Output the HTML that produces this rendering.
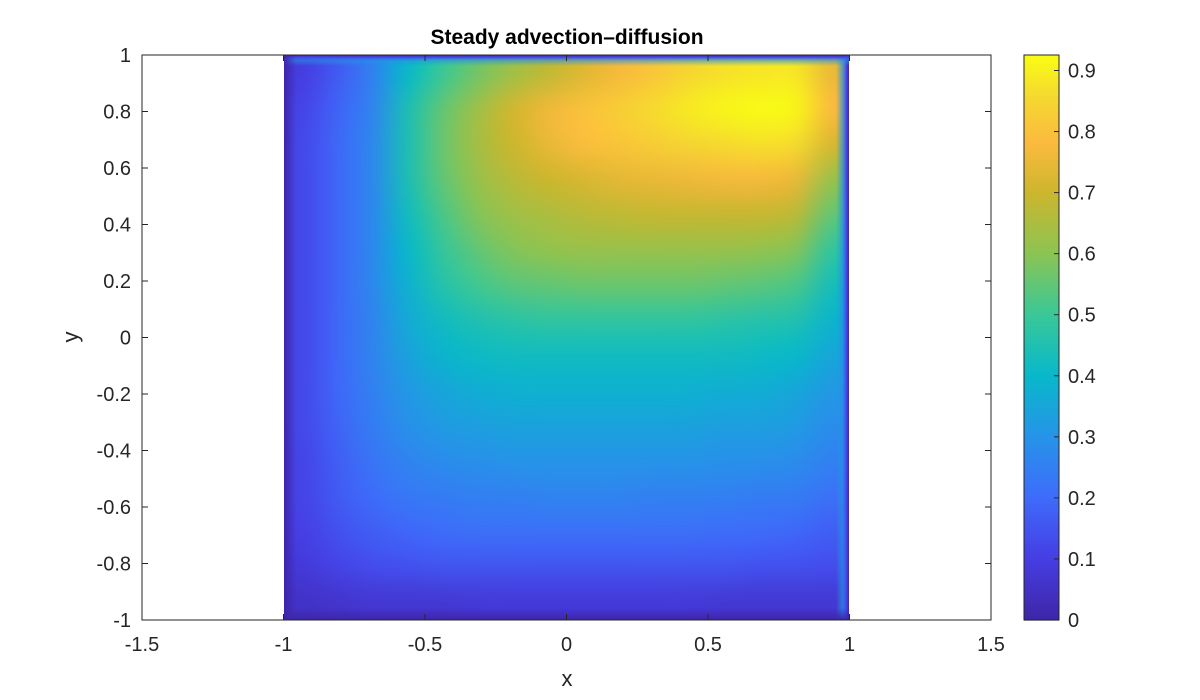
<!DOCTYPE html>
<html><head><meta charset="utf-8"><style>
body{margin:0;background:#fff;}
#wrap{position:relative;width:1200px;height:700px;}
#fieldCanvas{position:absolute;left:284px;top:55px;width:565px;height:565px;}
svg{position:absolute;left:0;top:0;display:block;font-family:"Liberation Sans",sans-serif;}
</style></head><body>
<div id="wrap">
<canvas id="fieldCanvas" width="565" height="565"></canvas>
<svg id="chart" width="1200" height="700">
<defs>
<linearGradient id="gRight" x1="0" y1="0" x2="1" y2="0">
<stop offset="0" stop-color="rgb(30,160,215)" stop-opacity="0"/>
<stop offset="0.5" stop-color="rgb(40,140,232)" stop-opacity="0.7"/>
<stop offset="0.8" stop-color="rgb(70,70,232)" stop-opacity="1"/>
<stop offset="1" stop-color="rgb(62,38,168)" stop-opacity="1"/>
</linearGradient>
<linearGradient id="gTop" x1="0" y1="1" x2="0" y2="0">
<stop offset="0" stop-color="rgb(30,160,215)" stop-opacity="0"/>
<stop offset="0.5" stop-color="rgb(40,140,232)" stop-opacity="0.6"/>
<stop offset="0.8" stop-color="rgb(70,70,232)" stop-opacity="1"/>
<stop offset="1" stop-color="rgb(62,38,168)" stop-opacity="1"/>
</linearGradient>
<linearGradient id="gLeft" x1="0" y1="0" x2="1" y2="0">
<stop offset="0" stop-color="rgb(62,38,168)" stop-opacity="1"/>
<stop offset="1" stop-color="rgb(62,38,168)" stop-opacity="0"/>
</linearGradient>
<linearGradient id="gBot" x1="0" y1="1" x2="0" y2="0">
<stop offset="0" stop-color="rgb(62,38,168)" stop-opacity="1"/>
<stop offset="1" stop-color="rgb(62,38,168)" stop-opacity="0"/>
</linearGradient>
</defs>
<g>
<rect x="836" y="55" width="13" height="565" fill="url(#gRight)"/>
<rect x="284" y="55" width="565" height="11" fill="url(#gTop)"/>
<rect x="284" y="55" width="12" height="565" fill="url(#gLeft)"/>
<rect x="284" y="608" width="565" height="12" fill="url(#gBot)"/>
</g>
<g id="axes"></g>
<g id="cbar"></g>
<text x="567" y="44" text-anchor="middle" font-size="21" font-weight="bold" fill="#000">Steady advection–diffusion</text>
<text x="567" y="686" text-anchor="middle" font-size="22" fill="#262626">x</text>
<text x="0" y="0" transform="translate(78,337) rotate(-90)" text-anchor="middle" font-size="22" fill="#262626">y</text>
</svg>
</div>
<script>
const xTicks=[-1.5,-1,-0.5,0,0.5,1,1.5];
const xTickLabels=["-1.5","-1","-0.5","0","0.5","1","1.5"];
const yTicks=[-1,-0.8,-0.6,-0.4,-0.2,0,0.2,0.4,0.6,0.8,1];
const yTickLabels=["-1","-0.8","-0.6","-0.4","-0.2","0","0.2","0.4","0.6","0.8","1"];
const cTicks=[0,0.1,0.2,0.3,0.4,0.5,0.6,0.7,0.8,0.9];
const cTickLabels=["0","0.1","0.2","0.3","0.4","0.5","0.6","0.7","0.8","0.9"];
const cMin=0, cMax=0.92;
const xCenters=[-0.9375,-0.8125,-0.6875,-0.5625,-0.4375,-0.3125,-0.1875,-0.0625,0.0625,0.1875,0.3125,0.4375,0.5625,0.6875,0.8125,0.9375];
const yCenters=[0.9375,0.8125,0.6875,0.5625,0.4375,0.3125,0.1875,0.0625,-0.0625,-0.1875,-0.3125,-0.4375,-0.5625,-0.6875,-0.8125,-0.9375];
const uValues=[
[0.09,0.16,0.25,0.40,0.50,0.57,0.63,0.68,0.73,0.77,0.81,0.85,0.87,0.88,0.88,0.75],
[0.11,0.18,0.26,0.44,0.55,0.63,0.71,0.76,0.80,0.83,0.86,0.89,0.91,0.92,0.91,0.78],
[0.12,0.19,0.27,0.44,0.56,0.64,0.70,0.75,0.79,0.81,0.83,0.85,0.86,0.87,0.86,0.72],
[0.12,0.19,0.27,0.44,0.55,0.62,0.67,0.70,0.72,0.74,0.75,0.76,0.77,0.77,0.75,0.62],
[0.12,0.19,0.27,0.42,0.52,0.59,0.63,0.65,0.67,0.68,0.69,0.69,0.69,0.69,0.67,0.55],
[0.12,0.19,0.27,0.40,0.49,0.55,0.59,0.61,0.62,0.62,0.62,0.62,0.62,0.61,0.59,0.48],
[0.12,0.19,0.27,0.38,0.46,0.51,0.54,0.55,0.56,0.56,0.56,0.56,0.55,0.54,0.52,0.43],
[0.12,0.19,0.26,0.36,0.42,0.45,0.47,0.48,0.48,0.48,0.48,0.48,0.47,0.46,0.45,0.39],
[0.12,0.19,0.26,0.34,0.39,0.41,0.42,0.42,0.42,0.42,0.42,0.42,0.42,0.41,0.40,0.35],
[0.12,0.19,0.25,0.31,0.35,0.37,0.38,0.38,0.38,0.38,0.38,0.38,0.37,0.37,0.35,0.31],
[0.12,0.18,0.24,0.29,0.32,0.33,0.34,0.34,0.34,0.34,0.34,0.34,0.33,0.33,0.32,0.28],
[0.11,0.17,0.22,0.26,0.28,0.29,0.30,0.30,0.30,0.30,0.30,0.30,0.29,0.29,0.28,0.25],
[0.11,0.16,0.20,0.23,0.24,0.25,0.25,0.26,0.26,0.26,0.25,0.25,0.25,0.24,0.24,0.21],
[0.10,0.14,0.17,0.19,0.20,0.21,0.21,0.21,0.21,0.21,0.21,0.21,0.20,0.20,0.19,0.17],
[0.08,0.11,0.13,0.14,0.15,0.15,0.15,0.15,0.15,0.15,0.15,0.15,0.15,0.14,0.14,0.13],
[0.05,0.06,0.07,0.07,0.07,0.08,0.08,0.08,0.08,0.08,0.08,0.08,0.07,0.07,0.07,0.07]];

const NS="http://www.w3.org/2000/svg";
const X0=142,X1=991,Y0=620,Y1=55;
const sx=v=>X0+(v+1.5)/3*(X1-X0);
const sy=v=>Y0-(v+1)/2*(Y0-Y1);
const CB={x:1024,w:35,top:55,bot:620};
const cy=v=>CB.bot-(v-cMin)/0.9*(CB.bot-70.5);
const stops=[[0,[62,38,168]],[0.1,[70,62,228]],[0.2,[62,108,250]],[0.3,[38,148,232]],[0.4,[8,184,202]],[0.5,[58,200,150]],[0.6,[140,196,82]],[0.7,[205,182,45]],[0.78,[252,186,62]],[0.85,[245,214,50]],[0.92,[249,251,21]]];
function parulaRGB(v){if(v<=stops[0][0])return stops[0][1];for(let i=1;i<stops.length;i++){if(v<=stops[i][0]){const a=stops[i-1],b=stops[i];const f=(v-a[0])/(b[0]-a[0]);return a[1].map((c,k)=>Math.round(c+(b[1][k]-c)*f));}}return stops[stops.length-1][1];}
function parula(v){const c=parulaRGB(v);return `rgb(${c[0]},${c[1]},${c[2]})`;}
function mk(tag,attrs,parent){const e=document.createElementNS(NS,tag);for(const k in attrs)e.setAttribute(k,attrs[k]);parent.appendChild(e);return e;}

const nx=xCenters.length, ny=yCenters.length;
const off=document.createElement('canvas');off.width=nx;off.height=ny;
const octx=off.getContext('2d');const img=octx.createImageData(nx,ny);
uValues.forEach((row,i)=>row.forEach((v,j)=>{const c=parulaRGB(v);const p=(i*nx+j)*4;img.data[p]=c[0];img.data[p+1]=c[1];img.data[p+2]=c[2];img.data[p+3]=255;}));
octx.putImageData(img,0,0);
const fc=document.getElementById('fieldCanvas');const fctx=fc.getContext('2d');
fctx.imageSmoothingEnabled=true;fctx.imageSmoothingQuality='high';
const fx0=sx(xCenters[0]-0.0625)-284, fw=sx(xCenters[nx-1]+0.0625)-sx(xCenters[0]-0.0625);
const fy0=sy(yCenters[0]+0.0625)-55, fh=sy(yCenters[ny-1]-0.0625)-sy(yCenters[0]+0.0625);
fctx.drawImage(off,0,0,nx,ny,fx0,fy0,fw,fh);

const ax=document.getElementById('axes');
const box=mk('rect',{x:X0,y:Y1,width:X1-X0,height:Y0-Y1,fill:'none',stroke:'#262626','stroke-width':1},ax);


xTicks.forEach((v,i)=>{
  const x=sx(v);
  mk('line',{x1:x,x2:x,y1:Y0,y2:Y0-6,stroke:'#262626'},ax);
  mk('line',{x1:x,x2:x,y1:Y1,y2:Y1+6,stroke:'#262626'},ax);
  const t=mk('text',{x:x,y:Y0+31,'text-anchor':'middle','font-size':20,fill:'#262626'},ax);
  t.textContent=xTickLabels[i];
  
  
});
yTicks.forEach((v,i)=>{
  const y=sy(v);
  mk('line',{x1:X0,x2:X0+6,y1:y,y2:y,stroke:'#262626'},ax);
  mk('line',{x1:X1,x2:X1-6,y1:y,y2:y,stroke:'#262626'},ax);
  const t=mk('text',{x:X0-11,y:y+7,'text-anchor':'end','font-size':20,fill:'#262626'},ax);
  t.textContent=yTickLabels[i];
  
  
});

const cb=document.getElementById('cbar');
const N=200;
const vTop=cMin+(CB.bot-CB.top)/(CB.bot-70.5)*0.9;
for(let k=0;k<N;k++){
  const v0=cMin+(vTop-cMin)*k/N, v1=cMin+(vTop-cMin)*(k+1)/N;
  mk('rect',{x:CB.x,y:cy(v1),width:CB.w,height:cy(v0)-cy(v1)+0.6,fill:parula(v0)},cb);
}
const cbox=mk('rect',{x:CB.x,y:CB.top,width:CB.w,height:CB.bot-CB.top,fill:'none',stroke:'#262626'},cb);


cTicks.forEach((v,i)=>{
  const y=cy(v);
  mk('line',{x1:CB.x+CB.w,x2:CB.x+CB.w-5,y1:y,y2:y,stroke:'#262626'},cb);
  const t=mk('text',{x:CB.x+CB.w+9,y:y+7,'font-size':20,fill:'#262626'},cb);
  t.textContent=cTickLabels[i];
  
  
});
</script>
</body></html>
